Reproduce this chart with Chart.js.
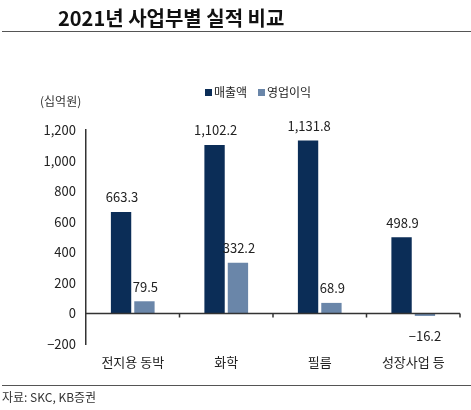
<!DOCTYPE html>
<html><head><meta charset="utf-8">
<script src="https://cdn.jsdelivr.net/npm/chart.js@4"></script>
<style>
body{margin:0;background:#fff;font-family:"Noto Sans CJK KR",sans-serif;}
#wrap{position:relative;width:471px;height:410px;}
canvas{position:absolute;left:0;top:0;}
.t{position:absolute;color:#111;}
</style></head><body>
<div id="wrap">
<canvas id="c" width="471" height="410"></canvas>
<div class="t" style="left:58px;top:3px;font-size:20px;font-weight:bold;">2021년 사업부별 실적 비교</div>
<div style="position:absolute;left:2px;right:0;top:31px;border-top:1.5px solid #555;"></div>
<div class="t" style="left:40px;top:92px;font-size:12px;color:#333;">(십억원)</div>
<div style="position:absolute;left:2px;right:0;top:385px;border-top:1px solid #555;"></div>
<div class="t" style="left:2px;top:388px;font-size:12px;color:#333;">자료: SKC, KB증권</div>
</div>
<script>
const categories = ['전지용 동박', '화학', '필름', '성장사업 등'];
const sales = [663.3, 1102.2, 1131.8, 498.9];
const profit = [79.5, 332.2, 68.9, -16.2];
const yTicks = [-200, 0, 200, 400, 600, 800, 1000, 1200];

const fmt = v => v.toLocaleString('en-US', {minimumFractionDigits: 1, maximumFractionDigits: 1}).replace('-', '−');

const extras = {
  id: 'extras',
  afterDatasetsDraw(chart) {
    const {ctx, scales: {x, y}, chartArea} = chart;
    const y0 = y.getPixelForValue(0);
    ctx.save();
    ctx.strokeStyle = '#333';
    ctx.lineWidth = 1.5;
    ctx.beginPath();
    ctx.moveTo(chartArea.left, y0);
    ctx.lineTo(chartArea.right, y0);
    for (let i = 1; i <= categories.length; i++) {
      const px = chartArea.left + (chartArea.right - chartArea.left) * i / categories.length;
      ctx.moveTo(px, y0);
      ctx.lineTo(px, y0 + 4);
    }
    ctx.stroke();
    ctx.fillStyle = '#222';
    ctx.font = '13px "Noto Sans CJK KR"';
    ctx.textAlign = 'center';
    chart.data.datasets.forEach((ds, di) => {
      chart.getDatasetMeta(di).data.forEach((bar, i) => {
        const v = ds.data[i];
        if (v >= 0) { ctx.textBaseline = 'bottom'; ctx.fillText(fmt(v), bar.x + 1, bar.y - 8); }
        else { ctx.textBaseline = 'top'; ctx.fillText(fmt(v), bar.x, bar.y + 14); }
      });
    });
    ctx.restore();
  }
};

new Chart(document.getElementById('c'), {
  type: 'bar',
  data: {
    labels: categories,
    datasets: [
      { label: '매출액', data: sales, backgroundColor: '#0b2d57' },
      { label: '영업이익', data: profit, backgroundColor: '#6a86a9' },
    ]
  },
  options: {
    responsive: false,
    animation: false,
    layout: { padding: { top: 130, right: 11, left: 0, bottom: 0 } },
    datasets: { bar: { categoryPercentage: 0.5, barPercentage: 0.87 } },
    plugins: {
      legend: {
        position: 'chartArea',
        display: false
      },
      tooltip: { enabled: false }
    },
    scales: {
      x: {
        grid: { display: false, drawTicks: false },
        border: { display: false },
        ticks: { color: '#222', font: { size: 13, family: '"Noto Sans CJK KR"' }, padding: 10 },
        afterFit: s => { s.height = 66; }
      },
      y: {
        min: -200, max: 1200,
        afterBuildTicks: s => { s.ticks = yTicks.map(v => ({ value: v })); },
        grid: { display: false, drawOnChartArea: false, drawTicks: true, tickLength: 4, color: '#333' },
        border: { display: true, color: '#333', width: 1.5 },
        ticks: { color: '#222', font: { size: 13, family: '"Noto Sans CJK KR"' }, padding: 6,
                 callback: v => v.toLocaleString('en-US').replace('-', '−') },
        afterFit: s => { s.width = 86; }
      }
    }
  },
  plugins: [extras, {
    id: 'legendDraw',
    afterDraw(chart) {
      const ctx = chart.ctx;
      ctx.save();
      ctx.font = '12px "Noto Sans CJK KR"';
      ctx.textBaseline = 'middle';
      ctx.fillStyle = '#0b2d57'; ctx.fillRect(205, 89, 7, 7);
      ctx.fillStyle = '#222'; ctx.fillText('매출액', 214, 92);
      ctx.fillStyle = '#6a86a9'; ctx.fillRect(258, 89, 7, 7);
      ctx.fillStyle = '#222'; ctx.fillText('영업이익', 267, 92);
      ctx.restore();
    }
  }]
});
</script>
</body></html>
